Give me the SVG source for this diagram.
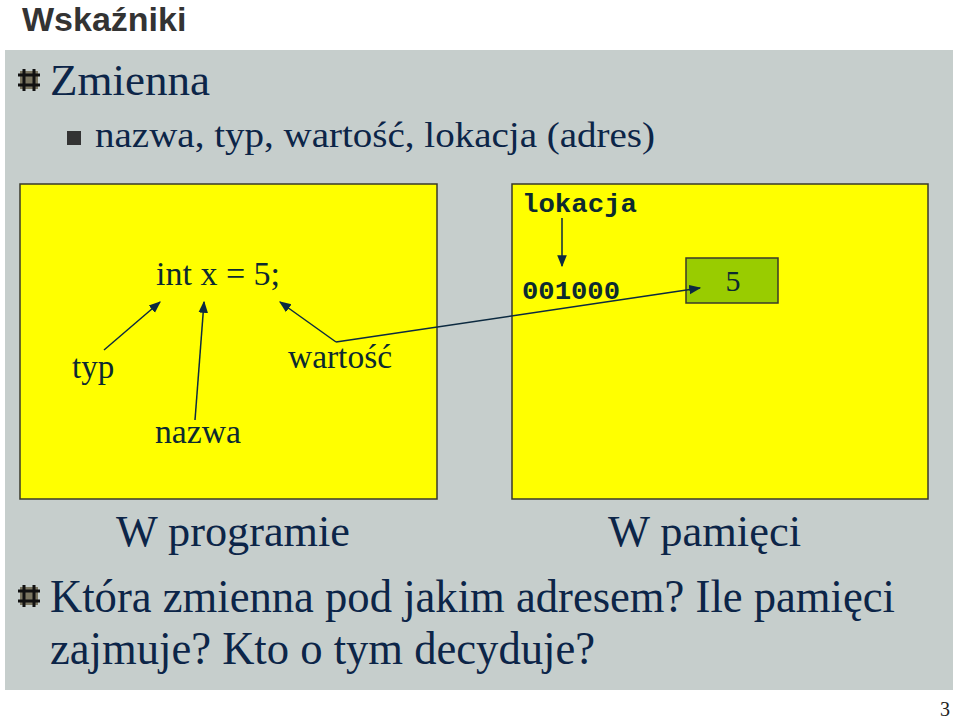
<svg xmlns="http://www.w3.org/2000/svg" width="960" height="720" viewBox="0 0 960 720">
<defs>
<style>
.s{font-family:"Liberation Serif","Times New Roman",serif;fill:#0c2548}
.d{font-family:"Liberation Serif",serif;fill:#0c2a30}
.m{font-family:"Liberation Mono","Courier New",monospace;font-weight:bold;fill:#0c2a30}
.box{fill:#ffff00;stroke:#3a3a2a;stroke-width:1.5}
.ln{stroke:#0c2a40;stroke-width:1.5;fill:none}
</style>
<marker id="a" viewBox="0 0 10 10" refX="9" refY="5" markerWidth="8" markerHeight="8" orient="auto"><path d="M0,1 L10,5 L0,9 z" fill="#0c2a40"/></marker>
<g id="hash"><rect x="-9" y="-9" width="18" height="18" fill="#7a7560"/><path d="M-5,-11 V11 M5,-11 V11 M-11,-5 H11 M-11,5 H11" stroke="#111" stroke-width="3"/></g>
</defs>
<rect width="960" height="720" fill="#fff"/>
<text x="22" y="31" font-family="Liberation Sans,Arial,sans-serif" font-weight="bold" font-size="34" fill="#333">Wskaźniki</text>
<rect x="5" y="50" width="948" height="640" fill="#c6cecc"/>
<use href="#hash" x="29" y="80"/>
<text class="s" x="50" y="95" font-size="44" textLength="160" lengthAdjust="spacingAndGlyphs">Zmienna</text>
<rect x="67" y="131" width="14" height="14" fill="#333"/>
<text class="s" x="95" y="147" font-size="36" textLength="560" lengthAdjust="spacingAndGlyphs">nazwa, typ, wartość, lokacja (adres)</text>
<g id="program"><rect class="box" x="20" y="184" width="417" height="315"/>
<text class="d" x="156" y="285" font-size="33" textLength="124" lengthAdjust="spacingAndGlyphs">int x = 5;</text>
<text class="d" x="72" y="378" font-size="33">typ</text>
<text class="d" x="288" y="368" font-size="33" textLength="104" lengthAdjust="spacingAndGlyphs">wartość</text>
<text class="d" x="155" y="443" font-size="33" textLength="86" lengthAdjust="spacingAndGlyphs">nazwa</text></g>
<g id="pamiec"><rect class="box" x="512" y="184" width="416" height="315"/>
<text class="m" x="522" y="212" font-size="25" textLength="115" lengthAdjust="spacingAndGlyphs">lokacja</text>
<text class="m" x="522" y="299" font-size="25" textLength="98" lengthAdjust="spacingAndGlyphs">001000</text></g>
<g id="cell"><rect x="686" y="258" width="92" height="45" fill="#99cc00" stroke="#3a3a2a" stroke-width="1.5"/>
<text class="d" x="733" y="291" font-size="30" text-anchor="middle">5</text></g>
<g id="connectors">
<line class="ln" x1="104" y1="350" x2="160" y2="302" marker-end="url(#a)"/>
<line class="ln" x1="195" y1="420" x2="204" y2="302" marker-end="url(#a)"/>
<polyline class="ln" points="336,342 280,302" marker-end="url(#a)"/>
<polyline class="ln" points="336,342 700,288" marker-end="url(#a)"/>
<line class="ln" x1="562" y1="218" x2="562" y2="266" marker-end="url(#a)"/>
</g>
<text class="s" x="116" y="546" font-size="44" textLength="234" lengthAdjust="spacingAndGlyphs">W programie</text>
<text class="s" x="608" y="546" font-size="44" textLength="193" lengthAdjust="spacingAndGlyphs">W pamięci</text>
<use href="#hash" x="29" y="596"/>
<text class="s" x="50" y="612" font-size="46" textLength="845" lengthAdjust="spacingAndGlyphs">Która zmienna pod jakim adresem? Ile pamięci</text>
<text class="s" x="50" y="664" font-size="46" textLength="545" lengthAdjust="spacingAndGlyphs">zajmuje? Kto o tym decyduje?</text>
<text x="940" y="716" font-family="Liberation Serif,serif" font-size="20" fill="#222">3</text>
</svg>
